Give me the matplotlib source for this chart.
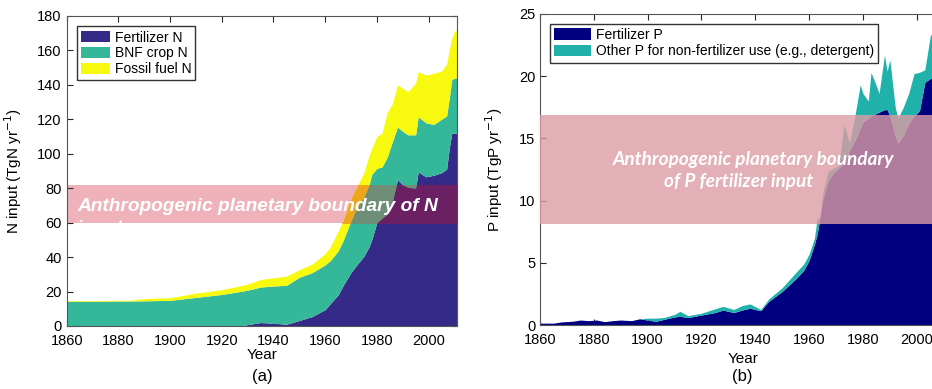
import numpy as np
import matplotlib
matplotlib.use("Agg")
from matplotlib import pyplot as plt
from matplotlib.patches import Rectangle

plt.rcParams['font.family'] = ['Liberation Sans', 'DejaVu Sans']

# ---- (a) nitrogen inputs, TgN/yr ----
years_n = [1860, 1885, 1890, 1900, 1910, 1920, 1927, 1930, 1935, 1940, 1945, 1950, 1955,
           1960, 1962, 1965, 1967, 1970, 1972, 1975, 1977, 1978, 1980, 1982, 1984, 1986,
           1988, 1990, 1992, 1995, 1996, 1999, 2002, 2005, 2007, 2008, 2009, 2010, 2011]
fert_n = [0, 0, 0, 0, 0, 0, 0, 0.8, 2, 1.6, 1, 3.2, 5.5,
          9.5, 13, 18, 23.6, 31, 35, 40.5, 46, 50, 60, 62.5, 65, 72,
          85, 82, 80.5, 80, 89.5, 86.6, 87.5, 89, 91, 103, 112, 112, 111.8]
bnf_n = [14.3, 14.5, 14.6, 14.9, 16.6, 18.3, 20, 20, 20.6, 21.6, 22.6, 25.1, 25.5,
         26, 25, 25.5, 26.2, 30, 33, 34.5, 36, 38, 31.5, 29.9, 33, 35,
         30.5, 31, 30.5, 31, 32, 31.4, 29.5, 31, 31, 29, 31, 32, 32]
fossil_n = [0.4, 0.5, 1.3, 1.5, 2.5, 2.8, 3.3, 3.5, 4.4, 4.8, 5.3, 4.4, 5,
            6.5, 8, 11.5, 11.6, 13, 12, 14, 17, 15, 18.5, 19.6, 26, 22,
            24.5, 25, 25, 30, 26.1, 27.7, 29.7, 28, 30, 28, 24, 27, 28]

# ---- (b) phosphorus inputs, TgP/yr ----
years_p = [1860, 1865, 1868, 1872, 1875, 1878, 1881, 1884, 1887, 1890, 1894, 1897, 1900,
           1903, 1906, 1910, 1912, 1915, 1920, 1925, 1928, 1932, 1935, 1938, 1942, 1945,
           1950, 1955, 1958, 1960, 1962, 1963, 1964, 1965, 1967, 1969, 1971, 1973, 1975,
           1977, 1979, 1980, 1982, 1983, 1985, 1986, 1988, 1989, 1990, 1992, 1993, 1995,
           1997, 1999, 2001, 2003, 2005, 2007, 2011]
fert_p = [0.15, 0.15, 0.25, 0.3, 0.4, 0.35, 0.4, 0.27, 0.35, 0.4, 0.35, 0.5, 0.4,
          0.3, 0.45, 0.65, 0.7, 0.6, 0.8, 1.0, 1.2, 1.0, 1.2, 1.35, 1.15, 1.9,
          2.7, 3.7, 4.4, 5.2, 6.5, 7.3, 8.6, 10.0, 11.5, 12.2, 12.6, 13.0, 14.0,
          14.8, 15.8, 16.3, 16.6, 16.8, 17.0, 17.1, 17.3, 17.3, 16.8, 15.2, 14.6, 15.2,
          16.2, 16.8, 17.2, 19.5, 19.8, 19.8, 20.5]
other_p = [0, 0, 0, 0, 0, 0, 0, 0, 0, 0, 0, 0, 0.15,
           0.25, 0.15, 0.2, 0.4, 0.15, 0.15, 0.3, 0.3, 0.25, 0.35, 0.35, 0.1, 0.2,
           0.3, 0.5, 0.5, 0.5, 0.5, 1.3, 0.0, 0.5, 0.8, 0.4, 0.2, 3.1, 0.6,
           2.0, 3.5, 2.3, 1.4, 3.5, 2.2, 1.5, 4.4, 3.1, 4.5, 2.3, 2.0, 2.3,
           2.4, 3.4, 3.1, 1.0, 3.4, 4.2, 4.5]

years_n = np.array(years_n)
years_p = np.array(years_p)

fig = plt.figure(figsize=(9.32, 3.89), dpi=100)
axA = fig.add_axes([0.0716, 0.162, 0.4187, 0.797])
axB = fig.add_axes([0.5794, 0.1645, 0.436, 0.800])

# ---------------- panel (a) ----------------
cols_n = ['#352a87', '#35b79a', '#f7f90f']
over_n = ['#6a2062', '#6f8e78', '#f0a61c']
names_n = ['Fertilizer N', 'BNF crop N', 'Fossil fuel N']
layers = [np.array(fert_n), np.array(bnf_n), np.array(fossil_n)]

axA.axhspan(60, 82, color='#efb2ba', lw=0, zorder=1)
base = np.zeros(len(years_n))
bands = []
for vals in layers:
    bands.append((base.copy(), base + vals))
    base = base + vals
for (lo, hi), c, lab in zip(bands, cols_n, names_n):
    axA.fill_between(years_n, lo, hi, color=c, lw=0, label=lab, zorder=2)
# band seen through the stacked areas
for (lo, hi), c in zip(bands, over_n):
    poly = axA.fill_between(years_n, lo, hi, color=c, lw=0, zorder=3)
    poly.set_clip_path(Rectangle((1850, 60), 200, 22, transform=axA.transData))

axA.text(1864, 66.9, 'Anthropogenic planetary boundary of N', color='white',
         fontsize=13.8, fontweight='bold', style='italic', zorder=5)
axA.text(1864, 53.8, 'input', color='white', fontsize=13.8, fontweight='bold',
         style='italic', zorder=5)

axA.set_xlim(1860, 2011)
axA.set_ylim(0, 180)
axA.set_xticks(range(1860, 2001, 20))
axA.set_yticks(range(0, 181, 20))
axA.set_xlabel('Year', fontsize=11, labelpad=0)
axA.set_ylabel('N input (TgN yr$^{-1}$)', fontsize=11)
axA.yaxis.set_label_coords(-0.11, 0.5)
axA.legend(loc='upper left', fontsize=10, fancybox=False, edgecolor='#333333',
           framealpha=1, borderaxespad=0.75, handlelength=2.1, handleheight=0.85,
           labelspacing=0.12, handletextpad=0.3, borderpad=0.3)

# ---------------- panel (b) ----------------
fp = np.array(fert_p)
op = np.array(other_p)
axB.fill_between(years_p, 0, fp, color='#000080', lw=0, label='Fertilizer P', zorder=2)
axB.fill_between(years_p, fp, fp + op, color='#20b2aa', lw=0,
                 label='Other P for non-fertilizer use (e.g., detergent)', zorder=2)
axB.axhspan(8.1, 16.85, color='#dd9ca5', alpha=0.8, lw=0, zorder=3)
axB.text(1887.1, 12.86, 'Anthropogenic planetary boundary', color='white',
         fontsize=13.7, fontweight='bold', style='italic', family='Lato', zorder=5)
axB.text(1906.1, 11.07, 'of P fertilizer input', color='white',
         fontsize=13.7, fontweight='bold', style='italic', family='Lato', zorder=5)

axB.set_xlim(1860, 2011)
axB.set_ylim(0, 25)
axB.set_xticks(range(1860, 2001, 20))
axB.set_yticks(range(0, 26, 5))
axB.set_xlabel('Year', fontsize=11, labelpad=3)
axB.set_ylabel('P input (TgP yr$^{-1}$)', fontsize=11)
axB.yaxis.set_label_coords(-0.086, 0.5)
axB.legend(loc='upper left', fontsize=10, fancybox=False, edgecolor='#333333',
           framealpha=1, borderaxespad=0.7, handlelength=2.7, handleheight=0.9,
           labelspacing=0.2, handletextpad=0.3, borderpad=0.3)

for ax in (axA, axB):
    ax.tick_params(direction='in', top=True, right=True, labelsize=10.5, length=4,
                   width=0.8, colors='#262626', labelcolor='black')
    ax.tick_params(axis='x', pad=6)
    for s in ax.spines.values():
        s.set_color('#555555')
        s.set_linewidth(0.8)

fig.text(262 / 932, 1 - 377 / 389, '(a)', ha='center', va='center', fontsize=12)
fig.text(742 / 932, 1 - 377 / 389, '(b)', ha='center', va='center', fontsize=12)

fig.savefig('out.png', dpi=100)
